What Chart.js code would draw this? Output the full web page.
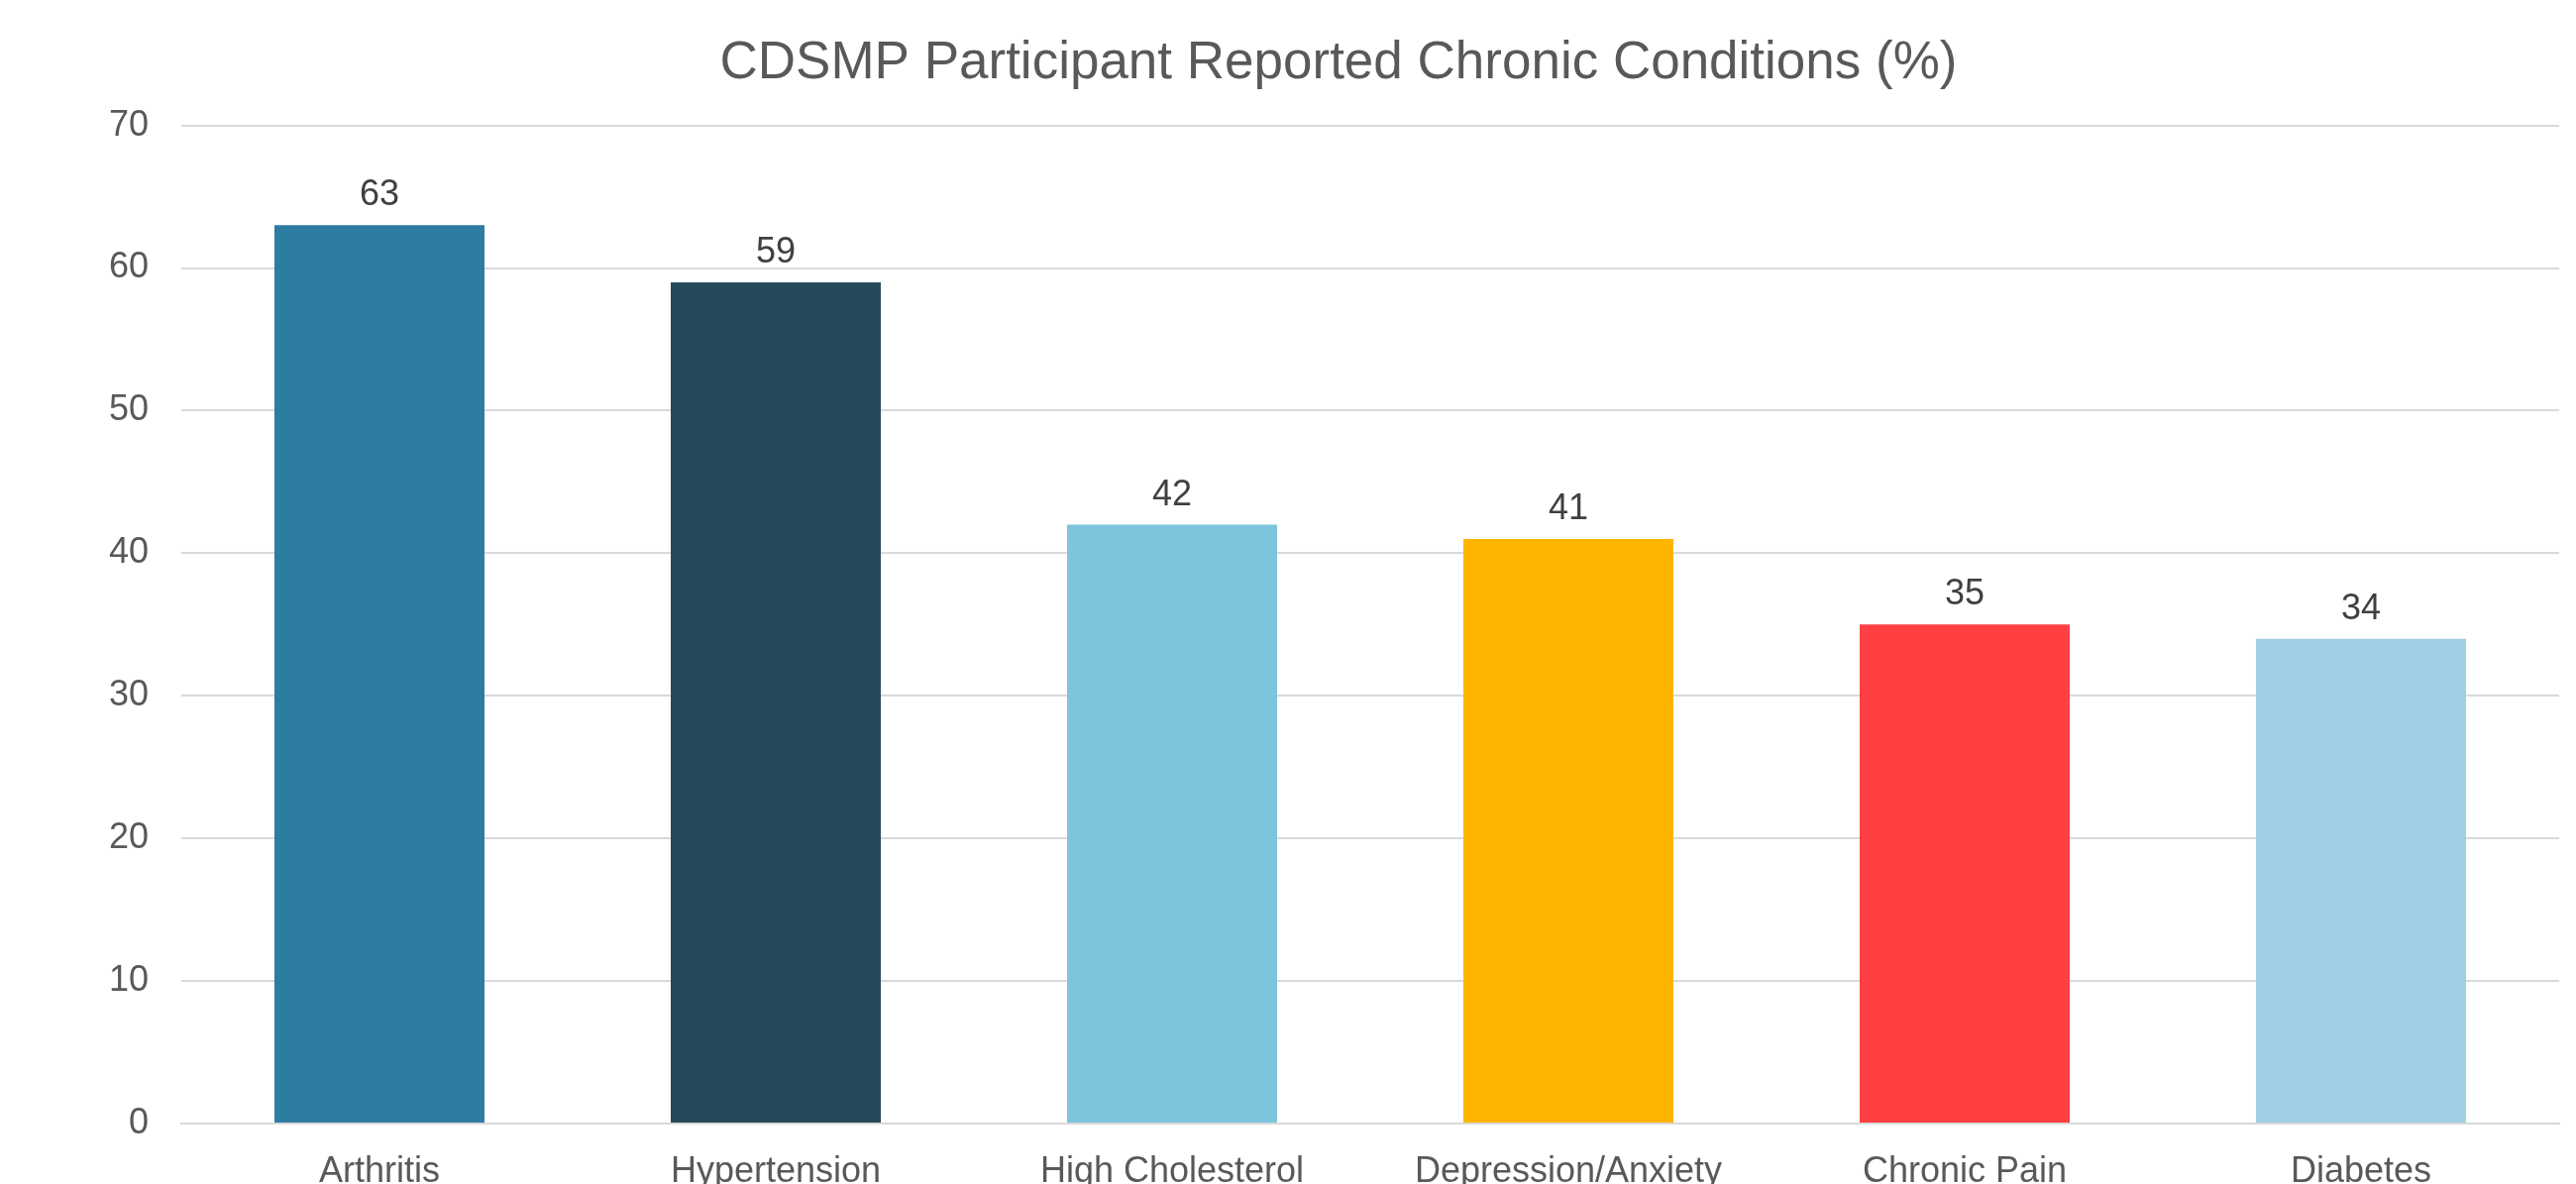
<!DOCTYPE html>
<html>
<head>
<meta charset="utf-8">
<script src="https://cdn.jsdelivr.net/npm/chart.js@4/dist/chart.umd.min.js"></script>
<style>
  html, body { margin: 0; padding: 0; background: #ffffff; overflow: hidden; }
  #wrap { position: relative; width: 2600px; height: 1195px; }
</style>
</head>
<body>
<div id="wrap"><canvas id="c"></canvas></div>
<script>
const categories = ["Arthritis", "Hypertension", "High Cholesterol", "Depression/Anxiety", "Chronic Pain", "Diabetes"];
const values = [63, 59, 42, 41, 35, 34];
const yTicks = [0, 10, 20, 30, 40, 50, 60, 70];
const titleText = "CDSMP Participant Reported Chronic Conditions (%)";

const barColors = ["#2D7CA1", "#254B5A", "#7DC5DD", "#FFB400", "#FF4043", "#9FCFE4"];
const FONT = "'Liberation Sans', Arial, sans-serif";

const valueLabels = {
  id: 'valueLabels',
  afterDatasetsDraw(chart) {
    const ctx = chart.ctx;
    const meta = chart.getDatasetMeta(0);
    ctx.save();
    ctx.font = "36px " + FONT;
    ctx.fillStyle = "#404040";
    ctx.textAlign = "center";
    ctx.textBaseline = "alphabetic";
    meta.data.forEach((bar, i) => {
      ctx.fillText(String(chart.data.datasets[0].data[i]), bar.x, bar.y - 20);
    });
    ctx.restore();
  }
};

const chartTitle = {
  id: 'chartTitle',
  afterDraw(chart) {
    const ctx = chart.ctx;
    ctx.save();
    ctx.font = "53px " + FONT;
    ctx.fillStyle = "#595959";
    ctx.textAlign = "center";
    ctx.textBaseline = "middle";
    ctx.fillText(titleText, 1351, 64);
    ctx.restore();
  }
};

new Chart(document.getElementById('c'), {
  type: 'bar',
  data: {
    labels: categories,
    datasets: [{
      data: values,
      backgroundColor: barColors,
      borderWidth: 0,
      categoryPercentage: 1.0,
      barPercentage: 0.53
    }]
  },
  options: {
    responsive: true,
    maintainAspectRatio: false,
    animation: false,
    devicePixelRatio: 1,
    layout: { padding: { left: 0, right: 17, top: 126.6, bottom: 0 } },
    plugins: {
      legend: { display: false },
      tooltip: { enabled: false },
      title: { display: false }
    },
    scales: {
      x: {
        grid: { display: false, drawTicks: false },
        border: { display: true, color: "#D9D9D9", width: 2 },
        ticks: {
          color: "#595959",
          font: { family: FONT, size: 36 },
          padding: 27,
          maxRotation: 0,
          autoSkip: false
        },
        afterFit(scale) { scale.height = 61; }
      },
      y: {
        min: 0,
        max: 70,
        afterBuildTicks(scale) { scale.ticks = yTicks.map(v => ({ value: v })); },
        grid: { color: "#D9D9D9", lineWidth: 2, drawTicks: false },
        border: { display: false },
        ticks: {
          color: "#595959",
          font: { family: FONT, size: 36 },
          padding: 33
        },
        afterFit(scale) { scale.width = 183; }
      }
    }
  },
  plugins: [valueLabels, chartTitle]
});
</script>
</body>
</html>
